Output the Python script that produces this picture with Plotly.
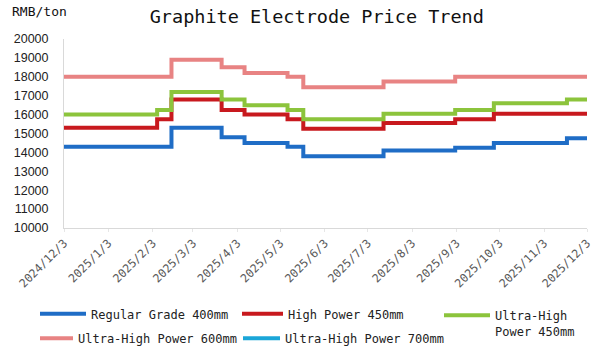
import plotly.graph_objects as go

dates = ["2024-12-03", "2025-02-06", "2025-02-16", "2025-03-23", "2025-04-08",
         "2025-05-08", "2025-05-19", "2025-07-14", "2025-09-02", "2025-09-29",
         "2025-11-19", "2025-12-03"]
regular_400 = [14300, 14300, 15300, 14800, 14500, 14300, 13800, 14100, 14250, 14500, 14750, 14750]
hp_450 = [15300, 15750, 16800, 16250, 16000, 15750, 15250, 15550, 15750, 16050, 16050, 16050]
uhp_450 = [16000, 16250, 17200, 16800, 16500, 16250, 15750, 16050, 16250, 16600, 16800, 16800]
uhp_600 = [18000, 18000, 18900, 18500, 18200, 18000, 17450, 17750, 18000, 18000, 18000, 18000]
uhp_700 = [None] * len(dates)

tick_dates = ["2024-12-03", "2025-01-03", "2025-02-03", "2025-03-03", "2025-04-03",
              "2025-05-03", "2025-06-03", "2025-07-03", "2025-08-03", "2025-09-03",
              "2025-10-03", "2025-11-03", "2025-12-03"]
tick_labels = ["2024/12/3", "2025/1/3", "2025/2/3", "2025/3/3", "2025/4/3", "2025/5/3",
               "2025/6/3", "2025/7/3", "2025/8/3", "2025/9/3", "2025/10/3", "2025/11/3",
               "2025/12/3"]

names = ["Regular Grade 400mm", "High Power 450mm", "Ultra-High<br>Power 450mm",
         "Ultra-High Power 600mm", "Ultra-High Power 700mm"]
values = [regular_400, hp_450, uhp_450, uhp_600, uhp_700]
colors = ["#1F6DC6", "#C8191E", "#8CC43C", "#E88383", "#1BA6D8"]

MONO = "DejaVu Sans Mono"
L, T, B_PX, H = 64, 39, 228, 189
W = 523


def px_x(p):
    return (p - L) / W


def px_y(p):
    return (B_PX - p) / H


# legend placement: (line start x, legend top y, itemwidth)
legend_pos = [(40, 299.5, 46), (242, 299.5, 41), (444, 301, 46),
              (40, 324, 33), (243, 324, 37)]
legend_ids = ["legend", "legend2", "legend3", "legend4", "legend5"]

fig = go.Figure()
for name, vals, col, lg in zip(names, values, colors, legend_ids):
    fig.add_trace(go.Scatter(x=dates, y=vals, name=name, mode="lines",
                             line=dict(color=col, width=4, shape="hv"),
                             legend=lg))

legends = {}
for lg, (lx, ly, iw) in zip(legend_ids, legend_pos):
    legends[lg] = dict(x=px_x(lx - 5), y=px_y(ly), itemwidth=iw,
                       orientation="v", xanchor="left", yanchor="top",
                       font=dict(family=MONO, size=12, color="#222"),
                       valign="top", bgcolor="rgba(0,0,0,0)")

fig.update_layout(
    width=600, height=353,
    margin=dict(l=L, r=600 - L - W, t=T, b=353 - B_PX, autoexpand=False),
    paper_bgcolor="white", plot_bgcolor="white",
    font=dict(family=MONO, color="#222"),
    title=dict(text="Graphite Electrode Price Trend", x=0.528, xanchor="center",
               y=0.952, yanchor="middle", font=dict(family=MONO, size=18.5, color="#111")),
    showlegend=True,
    annotations=[dict(text="RMB/ton", x=px_x(10), xref="paper", y=px_y(11), yref="paper",
                      showarrow=False, xanchor="left", yanchor="middle",
                      font=dict(family=MONO, size=13, color="#111"))],
    **legends,
)

fig.update_xaxes(type="date", range=["2024-12-03", "2025-12-03"],
                 tickvals=tick_dates, ticktext=tick_labels, tickangle=-45,
                 tickfont=dict(family=MONO, size=11.5, color="#595959"),
                 showgrid=False, showline=True, linecolor="#d9d9d9", linewidth=1,
                 ticks="outside", ticklen=3, tickcolor="#e6e6e6", zeroline=False)
fig.update_yaxes(range=[10000, 20000], dtick=1000, tick0=10000, tickformat="d",
                 tickfont=dict(family="Liberation Sans", size=12.5, color="#222"),
                 ticklabelstandoff=12,
                 showgrid=False, showline=True, linecolor="#d9d9d9", linewidth=1,
                 ticks="", zeroline=False)

fig.write_html("out.html")
